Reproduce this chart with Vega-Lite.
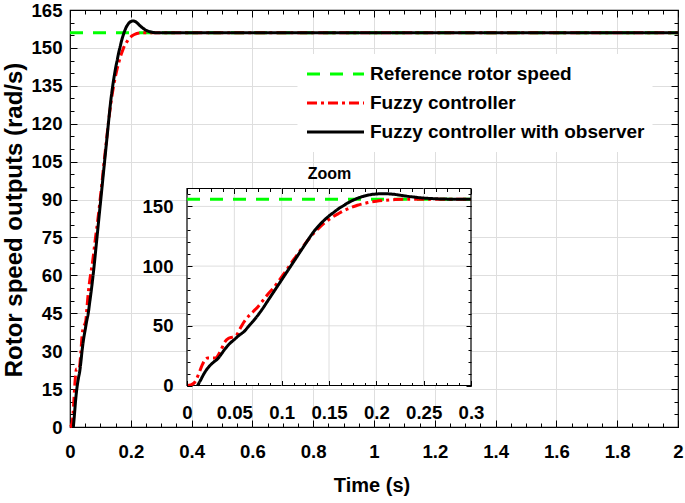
{
  "$schema": "https://vega.github.io/schema/vega-lite/v6.json",
  "width": 608,
  "height": 417,
  "autosize": "none",
  "padding": {"left": 70, "top": 10, "right": 7, "bottom": 76},
  "background": "white",
  "config": {
    "font": "Liberation Sans",
    "view": {"stroke": "#000000", "strokeWidth": 1.2},
    "axis": {
      "domain": false,
      "labelFont": "Liberation Sans",
      "labelFontWeight": "bold",
      "labelColor": "#000000",
      "labelFontSize": 18.6,
      "tickColor": "#000000",
      "tickWidth": 1,
      "gridColor": "#dedede",
      "gridWidth": 1,
      "gridOpacity": 1,
      "labelFlush": false,
      "labelOverlap": false,
      "titleColor": "#000000",
      "titleFontWeight": "bold",
      "titleFont": "Liberation Sans"
    }
  },
  "datasets": {
    "curves": [
      {"series": "Reference rotor speed", "t": 0, "v": 156},
      {"series": "Reference rotor speed", "t": 0.3, "v": 156},
      {"series": "Reference rotor speed", "t": 2, "v": 156},
      {"series": "Fuzzy controller", "t": 0, "v": 0},
      {"series": "Fuzzy controller", "t": 0.004, "v": 0.5},
      {"series": "Fuzzy controller", "t": 0.008, "v": 2.5},
      {"series": "Fuzzy controller", "t": 0.012, "v": 9},
      {"series": "Fuzzy controller", "t": 0.016, "v": 17},
      {"series": "Fuzzy controller", "t": 0.019, "v": 21.5},
      {"series": "Fuzzy controller", "t": 0.022, "v": 23},
      {"series": "Fuzzy controller", "t": 0.026, "v": 23},
      {"series": "Fuzzy controller", "t": 0.03, "v": 23},
      {"series": "Fuzzy controller", "t": 0.033, "v": 25.5},
      {"series": "Fuzzy controller", "t": 0.036, "v": 30},
      {"series": "Fuzzy controller", "t": 0.04, "v": 36.5},
      {"series": "Fuzzy controller", "t": 0.044, "v": 39.5},
      {"series": "Fuzzy controller", "t": 0.048, "v": 40.5},
      {"series": "Fuzzy controller", "t": 0.052, "v": 42},
      {"series": "Fuzzy controller", "t": 0.056, "v": 47.5},
      {"series": "Fuzzy controller", "t": 0.06, "v": 53},
      {"series": "Fuzzy controller", "t": 0.065, "v": 58},
      {"series": "Fuzzy controller", "t": 0.07, "v": 62},
      {"series": "Fuzzy controller", "t": 0.075, "v": 66},
      {"series": "Fuzzy controller", "t": 0.08, "v": 71},
      {"series": "Fuzzy controller", "t": 0.085, "v": 76},
      {"series": "Fuzzy controller", "t": 0.09, "v": 80.5},
      {"series": "Fuzzy controller", "t": 0.095, "v": 85.5},
      {"series": "Fuzzy controller", "t": 0.1, "v": 91},
      {"series": "Fuzzy controller", "t": 0.105, "v": 96.5},
      {"series": "Fuzzy controller", "t": 0.11, "v": 102.5},
      {"series": "Fuzzy controller", "t": 0.115, "v": 108},
      {"series": "Fuzzy controller", "t": 0.12, "v": 113.5},
      {"series": "Fuzzy controller", "t": 0.125, "v": 119},
      {"series": "Fuzzy controller", "t": 0.13, "v": 124},
      {"series": "Fuzzy controller", "t": 0.135, "v": 128.5},
      {"series": "Fuzzy controller", "t": 0.14, "v": 132.5},
      {"series": "Fuzzy controller", "t": 0.145, "v": 136},
      {"series": "Fuzzy controller", "t": 0.15, "v": 139},
      {"series": "Fuzzy controller", "t": 0.155, "v": 141.7},
      {"series": "Fuzzy controller", "t": 0.16, "v": 144},
      {"series": "Fuzzy controller", "t": 0.165, "v": 146.2},
      {"series": "Fuzzy controller", "t": 0.17, "v": 148},
      {"series": "Fuzzy controller", "t": 0.175, "v": 149.6},
      {"series": "Fuzzy controller", "t": 0.18, "v": 151},
      {"series": "Fuzzy controller", "t": 0.185, "v": 152},
      {"series": "Fuzzy controller", "t": 0.19, "v": 153},
      {"series": "Fuzzy controller", "t": 0.195, "v": 153.8},
      {"series": "Fuzzy controller", "t": 0.2, "v": 154.4},
      {"series": "Fuzzy controller", "t": 0.21, "v": 155.2},
      {"series": "Fuzzy controller", "t": 0.22, "v": 155.7},
      {"series": "Fuzzy controller", "t": 0.235, "v": 156},
      {"series": "Fuzzy controller", "t": 0.3, "v": 156},
      {"series": "Fuzzy controller", "t": 2, "v": 156},
      {"series": "Fuzzy controller with observer", "t": 0.011, "v": 0},
      {"series": "Fuzzy controller with observer", "t": 0.014, "v": 4},
      {"series": "Fuzzy controller with observer", "t": 0.017, "v": 8.5},
      {"series": "Fuzzy controller with observer", "t": 0.02, "v": 12.5},
      {"series": "Fuzzy controller with observer", "t": 0.024, "v": 16.5},
      {"series": "Fuzzy controller with observer", "t": 0.028, "v": 19.5},
      {"series": "Fuzzy controller with observer", "t": 0.032, "v": 22},
      {"series": "Fuzzy controller with observer", "t": 0.036, "v": 26},
      {"series": "Fuzzy controller with observer", "t": 0.04, "v": 30.5},
      {"series": "Fuzzy controller with observer", "t": 0.045, "v": 35},
      {"series": "Fuzzy controller with observer", "t": 0.05, "v": 38.5},
      {"series": "Fuzzy controller with observer", "t": 0.055, "v": 42},
      {"series": "Fuzzy controller with observer", "t": 0.06, "v": 45},
      {"series": "Fuzzy controller with observer", "t": 0.065, "v": 49.5},
      {"series": "Fuzzy controller with observer", "t": 0.07, "v": 54},
      {"series": "Fuzzy controller with observer", "t": 0.075, "v": 59},
      {"series": "Fuzzy controller with observer", "t": 0.08, "v": 64.5},
      {"series": "Fuzzy controller with observer", "t": 0.085, "v": 70.5},
      {"series": "Fuzzy controller with observer", "t": 0.09, "v": 76.5},
      {"series": "Fuzzy controller with observer", "t": 0.095, "v": 82.5},
      {"series": "Fuzzy controller with observer", "t": 0.1, "v": 88.5},
      {"series": "Fuzzy controller with observer", "t": 0.105, "v": 94.5},
      {"series": "Fuzzy controller with observer", "t": 0.11, "v": 100.5},
      {"series": "Fuzzy controller with observer", "t": 0.115, "v": 106.5},
      {"series": "Fuzzy controller with observer", "t": 0.12, "v": 112.5},
      {"series": "Fuzzy controller with observer", "t": 0.125, "v": 118.5},
      {"series": "Fuzzy controller with observer", "t": 0.13, "v": 124.5},
      {"series": "Fuzzy controller with observer", "t": 0.135, "v": 130},
      {"series": "Fuzzy controller with observer", "t": 0.14, "v": 134.5},
      {"series": "Fuzzy controller with observer", "t": 0.145, "v": 138.5},
      {"series": "Fuzzy controller with observer", "t": 0.15, "v": 142},
      {"series": "Fuzzy controller with observer", "t": 0.155, "v": 145},
      {"series": "Fuzzy controller with observer", "t": 0.16, "v": 148},
      {"series": "Fuzzy controller with observer", "t": 0.165, "v": 150.5},
      {"series": "Fuzzy controller with observer", "t": 0.17, "v": 153},
      {"series": "Fuzzy controller with observer", "t": 0.175, "v": 155},
      {"series": "Fuzzy controller with observer", "t": 0.18, "v": 156.8},
      {"series": "Fuzzy controller with observer", "t": 0.185, "v": 158.2},
      {"series": "Fuzzy controller with observer", "t": 0.19, "v": 159.2},
      {"series": "Fuzzy controller with observer", "t": 0.195, "v": 160},
      {"series": "Fuzzy controller with observer", "t": 0.2, "v": 160.4},
      {"series": "Fuzzy controller with observer", "t": 0.205, "v": 160.6},
      {"series": "Fuzzy controller with observer", "t": 0.21, "v": 160.6},
      {"series": "Fuzzy controller with observer", "t": 0.215, "v": 160.4},
      {"series": "Fuzzy controller with observer", "t": 0.22, "v": 160},
      {"series": "Fuzzy controller with observer", "t": 0.225, "v": 159.4},
      {"series": "Fuzzy controller with observer", "t": 0.23, "v": 158.8},
      {"series": "Fuzzy controller with observer", "t": 0.24, "v": 157.8},
      {"series": "Fuzzy controller with observer", "t": 0.25, "v": 157},
      {"series": "Fuzzy controller with observer", "t": 0.26, "v": 156.5},
      {"series": "Fuzzy controller with observer", "t": 0.27, "v": 156.2},
      {"series": "Fuzzy controller with observer", "t": 0.285, "v": 156},
      {"series": "Fuzzy controller with observer", "t": 0.3, "v": 156},
      {"series": "Fuzzy controller with observer", "t": 2, "v": 156}
    ],
    "igx": [{"g": 0.05}, {"g": 0.1}, {"g": 0.15}, {"g": 0.2}, {"g": 0.25}],
    "igy": [{"g": 50}, {"g": 100}, {"g": 150}]
  },
  "layer": [
    {
      "layer": [
        {
          "data": {"name": "curves"},
          "mark": {"type": "line", "strokeWidth": 3, "interpolate": "monotone"},
          "encoding": {
            "x": {"field": "t", "type": "quantitative", "scale": {"domain": [0, 2], "nice": false, "zero": false},
              "axis": {"values": [0.2, 0.4, 0.6, 0.8, 1, 1.2, 1.4, 1.6, 1.8], "grid": true, "ticks": false, "labels": false, "title": null}},
            "y": {"field": "v", "type": "quantitative", "scale": {"domain": [0, 165], "nice": false, "zero": false},
              "axis": {"values": [15, 30, 45, 60, 75, 90, 105, 120, 135, 150], "grid": true, "ticks": false, "labels": false, "title": null}},
            "color": {"field": "series", "type": "nominal",
              "scale": {"domain": ["Reference rotor speed", "Fuzzy controller", "Fuzzy controller with observer"], "range": ["#00ff00", "#ff0000", "#000000"]},
              "legend": {"title": null, "orient": "none", "legendX": 227.5, "legendY": 44, "fillColor": "white", "padding": 8, "symbolType": "stroke", "symbolSize": 3249, "symbolStrokeWidth": 3, "clipHeight": 24, "rowPadding": 5, "labelOffset": 4.5, "labelFontSize": 19, "labelFontWeight": "bold", "labelColor": "#000000", "labelFont": "Liberation Sans", "labelLimit": 400}},
            "strokeDash": {"field": "series", "type": "nominal",
              "scale": {"domain": ["Reference rotor speed", "Fuzzy controller", "Fuzzy controller with observer"], "range": [[13, 10], [10, 4, 3, 4], [1, 0]]},
              "legend": {"title": null, "orient": "none", "legendX": 227.5, "legendY": 44, "fillColor": "white", "padding": 8, "symbolType": "stroke", "symbolSize": 3249, "symbolStrokeWidth": 3, "clipHeight": 24, "rowPadding": 5, "labelOffset": 4.5, "labelFontSize": 19, "labelFontWeight": "bold", "labelColor": "#000000", "labelFont": "Liberation Sans", "labelLimit": 400}}
          }
        },
        {
          "data": {"values": [{}]},
          "mark": {"type": "point", "opacity": 0},
          "encoding": {
            "x": {"datum": 0, "type": "quantitative", "scale": {"domain": [0, 2], "nice": false, "zero": false},
              "axis": {"orient": "bottom", "values": [0, 0.2, 0.4, 0.6, 0.8, 1, 1.2, 1.4, 1.6, 1.8, 2], "format": "~g", "tickSize": -7, "labelPadding": 22, "grid": false,
                "title": "Time (s)", "titleFontSize": 20, "titleX": 301.5, "titleY": 64, "titleBaseline": "alphabetic", "titleAlign": "center", "titleAngle": 0}},
            "y": {"datum": 0, "type": "quantitative", "scale": {"domain": [0, 165], "nice": false, "zero": false},
              "axis": {"orient": "left", "values": [0, 15, 30, 45, 60, 75, 90, 105, 120, 135, 150, 165], "tickSize": -7, "labelPadding": 15, "grid": false,
                "title": "Rotor speed outputs (rad/s)", "titleFontSize": 24, "titleX": -49, "titleY": 209.5, "titleBaseline": "alphabetic", "titleAlign": "center", "titleAngle": 270}}
          }
        },
        {
          "data": {"values": [{}]},
          "mark": {"type": "point", "opacity": 0},
          "encoding": {
            "x": {"datum": 0, "type": "quantitative", "scale": {"domain": [0, 2], "nice": false, "zero": false},
              "axis": {"orient": "top", "values": [0, 0.2, 0.4, 0.6, 0.8, 1, 1.2, 1.4, 1.6, 1.8, 2], "tickSize": -7, "labels": false, "grid": false, "title": null}},
            "y": {"datum": 0, "type": "quantitative", "scale": {"domain": [0, 165], "nice": false, "zero": false},
              "axis": {"orient": "right", "values": [0, 15, 30, 45, 60, 75, 90, 105, 120, 135, 150, 165], "tickSize": -7, "labels": false, "grid": false, "title": null}}
          }
        },
        {
          "data": {"values": [{}]},
          "mark": {"type": "point", "opacity": 0},
          "encoding": {
            "x": {"datum": 0, "type": "quantitative", "scale": {"domain": [0, 2], "nice": false, "zero": false},
              "axis": {"orient": "bottom", "values": [0, 0.05, 0.1, 0.15, 0.2, 0.25, 0.3, 0.35, 0.4, 0.45, 0.5, 0.55, 0.6, 0.65, 0.7, 0.75, 0.8, 0.85, 0.9, 0.95, 1, 1.05, 1.1, 1.15, 1.2, 1.25, 1.3, 1.35, 1.4, 1.45, 1.5, 1.55, 1.6, 1.65, 1.7, 1.75, 1.8, 1.85, 1.9, 1.95, 2], "tickSize": -4, "labels": false, "grid": false, "title": null}},
            "y": {"datum": 0, "type": "quantitative", "scale": {"domain": [0, 165], "nice": false, "zero": false},
              "axis": {"orient": "left", "values": [0, 5, 10, 15, 20, 25, 30, 35, 40, 45, 50, 55, 60, 65, 70, 75, 80, 85, 90, 95, 100, 105, 110, 115, 120, 125, 130, 135, 140, 145, 150, 155, 160, 165], "tickSize": -4, "labels": false, "grid": false, "title": null}}
          }
        },
        {
          "data": {"values": [{}]},
          "mark": {"type": "point", "opacity": 0},
          "encoding": {
            "x": {"datum": 0, "type": "quantitative", "scale": {"domain": [0, 2], "nice": false, "zero": false},
              "axis": {"orient": "top", "values": [0, 0.05, 0.1, 0.15, 0.2, 0.25, 0.3, 0.35, 0.4, 0.45, 0.5, 0.55, 0.6, 0.65, 0.7, 0.75, 0.8, 0.85, 0.9, 0.95, 1, 1.05, 1.1, 1.15, 1.2, 1.25, 1.3, 1.35, 1.4, 1.45, 1.5, 1.55, 1.6, 1.65, 1.7, 1.75, 1.8, 1.85, 1.9, 1.95, 2], "tickSize": -4, "labels": false, "grid": false, "title": null}},
            "y": {"datum": 0, "type": "quantitative", "scale": {"domain": [0, 165], "nice": false, "zero": false},
              "axis": {"orient": "right", "values": [0, 5, 10, 15, 20, 25, 30, 35, 40, 45, 50, 55, 60, 65, 70, 75, 80, 85, 90, 95, 100, 105, 110, 115, 120, 125, 130, 135, 140, 145, 150, 155, 160, 165], "tickSize": -4, "labels": false, "grid": false, "title": null}}
          }
        }
      ],
      "resolve": {"axis": {"x": "independent", "y": "independent"}}
    },
    {
      "layer": [
        {
          "data": {"values": [{}]},
          "mark": {"type": "rect", "fill": "white", "stroke": "#000000", "strokeWidth": 1.2},
          "encoding": {
            "x": {"datum": 0, "type": "quantitative", "scale": {"domain": [0, 0.3], "range": [117, 401], "nice": false, "zero": false},
              "axis": {"orient": "bottom", "offset": -41.5, "values": [0, 0.05, 0.1, 0.15, 0.2, 0.25, 0.3], "format": "~g", "tickSize": -5, "labelPadding": 23.3, "grid": false, "title": null, "zindex": 1}},
            "x2": {"datum": 0.3},
            "y": {"datum": 0, "type": "quantitative", "scale": {"domain": [0, 165], "range": [375.5, 178.5], "nice": false, "zero": false},
              "axis": {"orient": "left", "offset": -117, "values": [0, 50, 100, 150], "tickSize": -5, "labelPadding": 19, "grid": false, "title": null, "zindex": 1}},
            "y2": {"datum": 165}
          }
        },
        {
          "data": {"name": "igx"},
          "mark": {"type": "rule", "color": "#dedede", "strokeWidth": 1},
          "encoding": {
            "x": {"field": "g", "type": "quantitative", "scale": {"domain": [0, 0.3], "range": [117, 401], "nice": false, "zero": false}, "axis": null},
            "y": {"datum": 0, "type": "quantitative", "scale": {"domain": [0, 165], "range": [375.5, 178.5], "nice": false, "zero": false}, "axis": null},
            "y2": {"datum": 165}
          }
        },
        {
          "data": {"name": "igy"},
          "mark": {"type": "rule", "color": "#dedede", "strokeWidth": 1},
          "encoding": {
            "y": {"field": "g", "type": "quantitative", "scale": {"domain": [0, 165], "range": [375.5, 178.5], "nice": false, "zero": false}, "axis": null},
            "x": {"datum": 0, "type": "quantitative", "scale": {"domain": [0, 0.3], "range": [117, 401], "nice": false, "zero": false}, "axis": null},
            "x2": {"datum": 0.3}
          }
        },
        {
          "data": {"name": "curves"},
          "transform": [{"filter": "datum.t <= 0.3"}],
          "mark": {"type": "line", "strokeWidth": 3, "interpolate": "monotone"},
          "encoding": {
            "x": {"field": "t", "type": "quantitative", "scale": {"domain": [0, 0.3], "range": [117, 401], "nice": false, "zero": false}, "axis": null},
            "y": {"field": "v", "type": "quantitative", "scale": {"domain": [0, 165], "range": [375.5, 178.5], "nice": false, "zero": false}, "axis": null},
            "color": {"field": "series", "type": "nominal",
              "scale": {"domain": ["Reference rotor speed", "Fuzzy controller", "Fuzzy controller with observer"], "range": ["#00ff00", "#ff0000", "#000000"]}, "legend": null},
            "strokeDash": {"field": "series", "type": "nominal",
              "scale": {"domain": ["Reference rotor speed", "Fuzzy controller", "Fuzzy controller with observer"], "range": [[13, 10], [10, 4, 3, 4], [1, 0]]}, "legend": null}
          }
        },
        {
          "data": {"values": [{}]},
          "mark": {"type": "point", "opacity": 0},
          "encoding": {
            "x": {"datum": 0, "type": "quantitative", "scale": {"domain": [0, 0.3], "range": [117, 401], "nice": false, "zero": false},
              "axis": {"orient": "top", "offset": -178.5, "values": [0, 0.05, 0.1, 0.15, 0.2, 0.25, 0.3], "tickSize": -5, "labels": false, "grid": false,
                "title": "Zoom", "titleFontSize": 16, "titleY": -10.5, "titleBaseline": "alphabetic", "zindex": 1}},
            "y": {"datum": 0, "type": "quantitative", "scale": {"domain": [0, 165], "range": [375.5, 178.5], "nice": false, "zero": false},
              "axis": {"orient": "right", "offset": -207, "values": [0, 50, 100, 150], "tickSize": -5, "labels": false, "grid": false, "title": null, "zindex": 1}}
          }
        },
        {
          "data": {"values": [{}]},
          "mark": {"type": "point", "opacity": 0},
          "encoding": {
            "x": {"datum": 0, "type": "quantitative", "scale": {"domain": [0, 0.3], "range": [117, 401], "nice": false, "zero": false},
              "axis": {"orient": "bottom", "offset": -41.5, "values": [0, 0.0125, 0.025, 0.0375, 0.05, 0.0625, 0.075, 0.0875, 0.1, 0.1125, 0.125, 0.1375, 0.15, 0.1625, 0.175, 0.1875, 0.2, 0.2125, 0.225, 0.2375, 0.25, 0.2625, 0.275, 0.2875, 0.3], "tickSize": -3, "labels": false, "grid": false, "title": null, "zindex": 1}},
            "y": {"datum": 0, "type": "quantitative", "scale": {"domain": [0, 165], "range": [375.5, 178.5], "nice": false, "zero": false},
              "axis": {"orient": "left", "offset": -117, "values": [0, 10, 20, 30, 40, 50, 60, 70, 80, 90, 100, 110, 120, 130, 140, 150, 160], "tickSize": -3, "labels": false, "grid": false, "title": null, "zindex": 1}}
          }
        },
        {
          "data": {"values": [{}]},
          "mark": {"type": "point", "opacity": 0},
          "encoding": {
            "x": {"datum": 0, "type": "quantitative", "scale": {"domain": [0, 0.3], "range": [117, 401], "nice": false, "zero": false},
              "axis": {"orient": "top", "offset": -178.5, "values": [0, 0.0125, 0.025, 0.0375, 0.05, 0.0625, 0.075, 0.0875, 0.1, 0.1125, 0.125, 0.1375, 0.15, 0.1625, 0.175, 0.1875, 0.2, 0.2125, 0.225, 0.2375, 0.25, 0.2625, 0.275, 0.2875, 0.3], "tickSize": -3, "labels": false, "grid": false, "title": null, "zindex": 1}},
            "y": {"datum": 0, "type": "quantitative", "scale": {"domain": [0, 165], "range": [375.5, 178.5], "nice": false, "zero": false},
              "axis": {"orient": "right", "offset": -207, "values": [0, 10, 20, 30, 40, 50, 60, 70, 80, 90, 100, 110, 120, 130, 140, 150, 160], "tickSize": -3, "labels": false, "grid": false, "title": null, "zindex": 1}}
          }
        }
      ],
      "resolve": {"axis": {"x": "independent", "y": "independent"}}
    }
  ],
  "resolve": {"scale": {"x": "independent", "y": "independent"}}
}
